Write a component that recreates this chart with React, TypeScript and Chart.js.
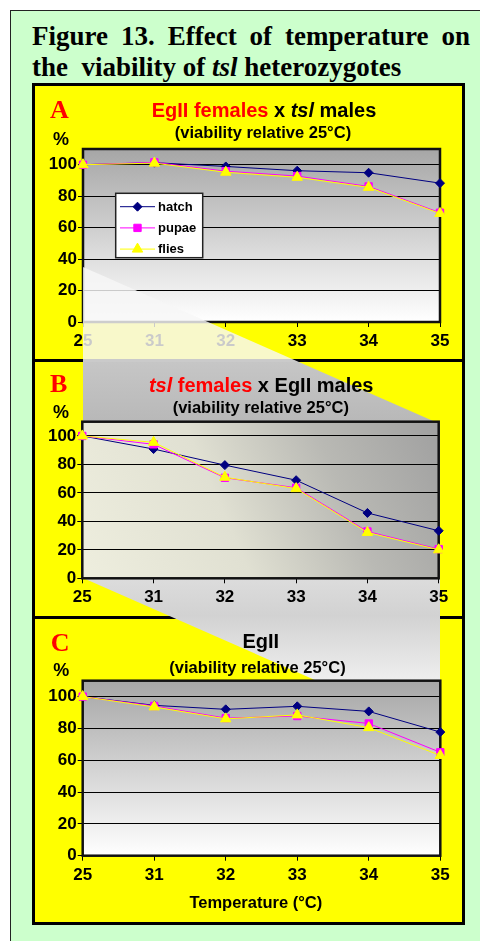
import React, { useEffect, useRef } from "react";
import { Chart, registerables } from "chart.js";
import { drawPoint } from "chart.js/helpers";

Chart.register(...registerables);

// ---------- data ----------
const temperatures = ["25", "31", "32", "33", "34", "35"];
const yTickValues = [0, 20, 40, 60, 80, 100];
const seriesNames = ["hatch", "pupae", "flies"];

const hatchA = [100, 101.3, 98.9, 96.2, 94.9, 88.3];
const pupaeA = [100, 101.5, 95.9, 92.8, 86.2, 69.5];
const fliesA = [100, 101, 95.2, 92, 85.6, 69];

const hatchB = [100, 90.8, 79.5, 68.9, 45.9, 33.4];
const pupaeB = [100, 94.1, 70.6, 63.6, 32.9, 20.5];
const fliesB = [100, 95.5, 71, 63, 32.2, 20];

const hatchC = [100, 94.5, 92, 93.9, 90.7, 77.7];
const pupaeC = [100, 94.1, 86.5, 87.8, 83.1, 65];
const fliesC = [100, 93.5, 86, 88.5, 80.5, 63];

// ---------- styles ----------
const SANS = '"Liberation Sans", Arial, sans-serif';
const SERIF = '"Liberation Serif", "Times New Roman", serif';
const seriesColors = ["#000080", "#FF00FF", "#FFFF00"];
const seriesPoints = ["rectRot", "rect", "triangle"];
const seriesRadius = [4.5, 5.2, 6];
const seriesOrder = [2, 1, 0];

const plotBgPlugin = {
  id: "plotBg",
  beforeDraw(chart: any, _a: any, opts: any) {
    const { ctx, chartArea: a } = chart;
    let g: CanvasGradient;
    if (opts && opts.mode === "mixed") {
      g = ctx.createLinearGradient(a.left, a.bottom, a.right, a.top);
      g.addColorStop(0, "#eeeede");
      g.addColorStop(0.4, "#e0e0d2");
      g.addColorStop(0.7, "#b9b9b4");
      g.addColorStop(1, "#a0a0a0");
    } else {
      g = ctx.createLinearGradient(0, a.top, 0, a.bottom);
      g.addColorStop(0, "#a6a6a6");
      g.addColorStop(1, "#ffffff");
    }
    ctx.save();
    ctx.fillStyle = g;
    ctx.fillRect(a.left, a.top, a.right - a.left, a.bottom - a.top);
    ctx.restore();
  },
  beforeDatasetsDraw(chart: any) {
    const { ctx, chartArea: a } = chart;
    ctx.save();
    ctx.strokeStyle = "#111";
    ctx.lineWidth = 2.5;
    ctx.strokeRect(a.left, a.top, a.right - a.left, a.bottom - a.top);
    ctx.restore();
  },
};

const boxLegendPlugin = {
  id: "boxLegend",
  afterDraw(chart: any, _a: any, opts: any) {
    if (!opts || !opts.show) return;
    const { ctx, chartArea: a } = chart;
    const x0 = a.left + 32.7;
    const y0 = a.top + 44.3;
    const w = 87;
    const h = 64.4;
    ctx.save();
    ctx.fillStyle = "#ffffff";
    ctx.fillRect(x0, y0, w, h);
    ctx.strokeStyle = "#222";
    ctx.lineWidth = 1.5;
    ctx.strokeRect(x0, y0, w, h);
    seriesNames.forEach((name, i) => {
      const cy = y0 + 13.4 + i * 21.2;
      ctx.strokeStyle = seriesColors[i];
      ctx.lineWidth = 1;
      ctx.beginPath();
      ctx.moveTo(x0 + 4.3, cy);
      ctx.lineTo(x0 + 39.3, cy);
      ctx.stroke();
      ctx.fillStyle = seriesColors[i];
      ctx.strokeStyle = seriesColors[i];
      drawPoint(ctx, { pointStyle: seriesPoints[i] as any, radius: seriesRadius[i], rotation: 0, borderWidth: 1 }, x0 + 21.8, cy);
      ctx.fillStyle = "#000";
      ctx.font = `bold 13px ${SANS}`;
      ctx.textBaseline = "middle";
      ctx.textAlign = "left";
      ctx.fillText(name, x0 + 42.3, cy + 0.5);
    });
    ctx.restore();
  },
};

type PanelCfg = {
  hatch: number[];
  pupae: number[];
  flies: number[];
  left: number;
  top: number;
  width: number;
  height: number;
  padTop: number;
  padRight: number;
  yWidth: number;
  xHeight: number;
  bg: string;
  legend?: boolean;
  z: number;
};

function LineChart(p: PanelCfg) {
  const ref = useRef<HTMLCanvasElement>(null);
  useEffect(() => {
    const values = [p.hatch, p.pupae, p.flies];
    const tickFont = { family: SANS, size: 17, weight: "bold" as const };
    const chart = new Chart(ref.current!, {
      type: "line",
      data: {
        labels: temperatures,
        datasets: seriesNames.map((name, i) => ({
          label: name,
          data: values[i],
          borderColor: seriesColors[i],
          backgroundColor: seriesColors[i],
          borderWidth: 1,
          pointStyle: seriesPoints[i] as any,
          pointRadius: seriesRadius[i],
          pointBackgroundColor: seriesColors[i],
          pointBorderColor: seriesColors[i],
          pointBorderWidth: 1,
          tension: 0,
          order: seriesOrder[i],
          clip: false as any,
        })),
      },
      options: {
        animation: false,
        responsive: false,
        maintainAspectRatio: false,
        events: [],
        layout: { padding: { left: 0, right: p.padRight, top: p.padTop, bottom: 0 } },
        plugins: {
          legend: { display: false },
          tooltip: { enabled: false },
          title: { display: false },
          plotBg: { mode: p.bg },
          boxLegend: { show: !!p.legend },
        } as any,
        scales: {
          x: {
            type: "category",
            offset: false,
            grid: { drawOnChartArea: false, drawTicks: true, tickLength: 5, color: "#000", lineWidth: 1 },
            border: { display: false },
            ticks: { color: "#000", font: tickFont, padding: 4, maxRotation: 0, autoSkip: false },
            afterFit: (s: any) => {
              s.height = p.xHeight;
            },
          },
          y: {
            min: 0,
            max: 110,
            grid: { color: "#000", lineWidth: 1, tickLength: 5, drawTicks: true },
            border: { display: false },
            ticks: { color: "#000", font: tickFont, padding: 1, stepSize: 20 },
            afterBuildTicks: (s: any) => {
              s.ticks = yTickValues.map((v) => ({ value: v }));
            },
            afterFit: (s: any) => {
              s.width = p.yWidth;
            },
          },
        },
      },
      plugins: [plotBgPlugin, boxLegendPlugin],
    });
    return () => chart.destroy();
  }, []);
  return (
    <canvas
      ref={ref}
      width={p.width}
      height={p.height}
      style={{ position: "absolute", left: p.left, top: p.top, width: p.width, height: p.height, zIndex: p.z, display: "block" }}
    />
  );
}

function Txt(props: {
  x: number;
  base: number;
  size: number;
  serif?: boolean;
  center?: boolean;
  color?: string;
  z?: number;
  children: React.ReactNode;
}) {
  const asc = props.serif ? 0.8375 : 0.8465;
  return (
    <div
      style={{
        position: "absolute",
        left: props.x,
        top: props.base - asc * props.size,
        transform: props.center ? "translateX(-50%)" : undefined,
        fontFamily: props.serif ? SERIF : SANS,
        fontWeight: "bold",
        fontSize: props.size,
        lineHeight: 1,
        whiteSpace: "nowrap",
        color: props.color || "#000",
        zIndex: props.z ?? 2,
      }}
    >
      {props.children}
    </div>
  );
}

const panelStyle = (top: number, height: number): React.CSSProperties => ({
  position: "absolute",
  left: 32,
  top,
  width: 433,
  height,
  boxSizing: "border-box",
  border: "3px solid #000",
  background: "#FFFF00",
  zIndex: 0,
});

export default function App() {
  return (
    <div style={{ position: "absolute", left: 0, top: 0, width: 480, height: 941, overflow: "hidden", background: "#fff" }}>
      {/* green frame */}
      <div
        style={{
          position: "absolute",
          left: 10,
          top: 10,
          width: 480,
          height: 940,
          background: "#CCFFCC",
          borderLeft: "1.5px solid #222",
          borderTop: "1.5px solid #222",
        }}
      />
      {/* figure title */}
      <div
        style={{
          position: "absolute",
          left: 32,
          top: 46 - 0.8375 * 27,
          width: 438,
          fontFamily: SERIF,
          fontWeight: "bold",
          fontSize: 27,
          lineHeight: 1,
          textAlign: "justify",
          textAlignLast: "justify",
        }}
      >
        Figure 13. Effect of temperature on
      </div>
      <div
        style={{
          position: "absolute",
          left: 32,
          top: 77 - 0.8375 * 27,
          fontFamily: SERIF,
          fontWeight: "bold",
          fontSize: 27,
          lineHeight: 1,
          whiteSpace: "pre",
        }}
      >
        {"the  viability of "}
        <i>tsl</i>
        {" heterozygotes"}
      </div>

      {/* panels */}
      <div style={panelStyle(83, 279)} />
      <div style={panelStyle(359, 260)} />
      <div style={panelStyle(616, 309)} />

      {/* diagonal shading band (lower part) */}
      <div
        style={{
          position: "absolute",
          left: 83,
          top: 362,
          width: 357,
          height: 373,
          zIndex: 1,
          clipPath: "polygon(0px 0px, 215.9px 0px, 357px 62px, 357px 373px, 0px 216px)",
          background:
            "linear-gradient(to bottom, #c6c6c6 0%, #b8b8b8 16%, #cfcfcf 40%, #dcdcdc 58%, #d2d2d2 68%, #eeeeee 85%, #fafafa 100%)",
        }}
      />

      {/* Panel A */}
      <LineChart
        hatch={hatchA}
        pupae={pupaeA}
        flies={fliesA}
        left={35}
        top={86}
        width={427}
        height={273}
        padTop={63}
        padRight={22}
        yWidth={48}
        xHeight={37}
        bg="gray"
        legend
        z={2}
      />
      <Txt x={50} base={118.3} size={26} serif color="#FF0000">A</Txt>
      <Txt x={264} base={116.7} size={20} center>
        <span style={{ color: "#FF0000" }}>EgII females</span> x <i>tsl</i> males
      </Txt>
      <Txt x={263} base={138} size={16.5} center>(viability relative 25°C)</Txt>
      <Txt x={53} base={145} size={18}>%</Txt>

      {/* band upper part overlay (panel A) */}
      <div
        style={{
          position: "absolute",
          left: 83,
          top: 267,
          width: 216,
          height: 95,
          zIndex: 3,
          clipPath: "polygon(0px 0px, 215.9px 95px, 0px 95px)",
          background: "rgba(247,247,247,0.82)",
        }}
      />

      {/* Panel B */}
      <LineChart
        hatch={hatchB}
        pupae={pupaeB}
        flies={fliesB}
        left={35}
        top={362}
        width={427}
        height={254}
        padTop={59.7}
        padRight={23.3}
        yWidth={47.3}
        xHeight={37.7}
        bg="mixed"
        z={2}
      />
      <Txt x={50} base={392.7} size={26} serif color="#FF0000">B</Txt>
      <Txt x={261.2} base={391.7} size={20} center>
        <span style={{ color: "#FF0000" }}>
          <i>tsl</i> females
        </span>{" "}
        x EgII males
      </Txt>
      <Txt x={260.8} base={413.3} size={16.5} center>(viability relative 25°C)</Txt>
      <Txt x={53} base={418.3} size={18}>%</Txt>

      {/* Panel C */}
      <LineChart
        hatch={hatchC}
        pupae={pupaeC}
        flies={fliesC}
        left={35}
        top={619}
        width={427}
        height={303}
        padTop={61.7}
        padRight={21.7}
        yWidth={47.7}
        xHeight={66.3}
        bg="gray"
        z={2}
      />
      <Txt x={50.7} base={651.7} size={26} serif color="#FF0000">C</Txt>
      <Txt x={260.8} base={648} size={20} center>EgII</Txt>
      <Txt x={257.5} base={672.7} size={16.5} center>(viability relative 25°C)</Txt>
      <Txt x={53.3} base={676.7} size={18}>%</Txt>
      <Txt x={255.8} base={908} size={16.5} center>Temperature (°C)</Txt>
    </div>
  );
}
